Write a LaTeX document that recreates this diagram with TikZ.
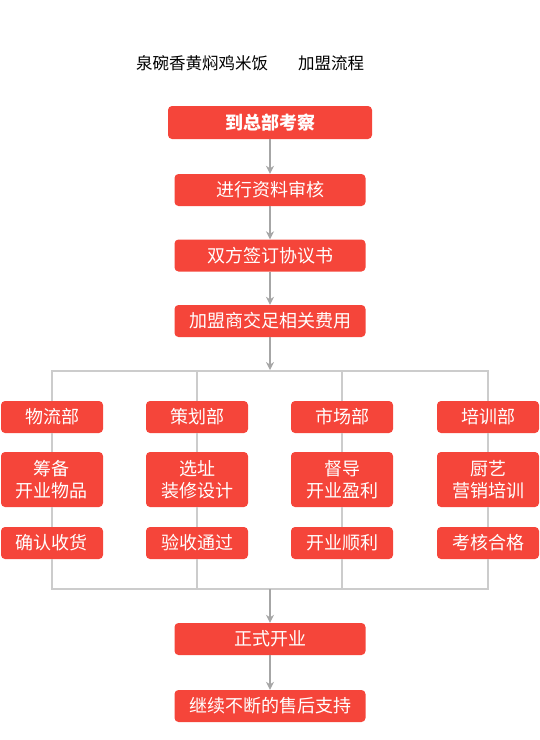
\documentclass[tikz,border=0pt]{standalone}
\usepackage{fontspec}
\setmainfont{Noto Sans CJK SC}
\usetikzlibrary{arrows.meta}
\definecolor{boxred}{HTML}{F5453A}
\definecolor{linegray}{HTML}{CCCCCC}
\definecolor{arrowgray}{HTML}{A6A6A6}
\tikzset{
  redbox/.style={fill=boxred, rounded corners=4pt, text=white, inner sep=0pt,
    minimum height=32pt, font=\fontsize{18}{22}\selectfont, align=center},
  mainbox/.style={redbox, minimum width=191pt},
  colbox/.style={redbox, minimum width=102pt},
  flowarrow/.style={-{Stealth[length=8pt,width=8pt]}, line width=1.6pt, arrowgray},
  branch/.style={line width=1.4pt, linegray}
}
\begin{document}
\begin{tikzpicture}[x=1pt,y=-1pt]
  \useasboundingbox (0,0) rectangle (540,740);

  % title
  \node (title) at (202,63) {\fontsize{16.5}{19}\selectfont 泉碗香黄焖鸡米饭};
  \node (sub) at (331,63) {\fontsize{16.5}{19}\selectfont 加盟流程};

  % main flow
  \node[redbox, minimum width=204pt, minimum height=33pt, font=\fontsize{18}{22}\selectfont\bfseries] (visit) at (270,122.5) {到总部考察};
  \node[mainbox] (check) at (270,190) {进行资料审核};
  \node[mainbox] (sign) at (270,255.5) {双方签订协议书};
  \node[mainbox] (fee) at (270,321) {加盟商交足相关费用};

  \draw[flowarrow] (visit) -- (check);
  \draw[flowarrow] (check) -- (sign);
  \draw[flowarrow] (sign) -- (fee);
  \coordinate (split) at (270,370);
  \draw[flowarrow] (fee) -- (split);

  % departments
  \node[colbox] (wl) at (52,417) {物流部};
  \node[colbox] (ch) at (197,417) {策划部};
  \node[colbox] (sc) at (342,417) {市场部};
  \node[colbox] (px) at (488,417) {培训部};

  \node[colbox, minimum height=55pt] (wl2) at (52,479.5) {筹备\\开业物品};
  \node[colbox, minimum height=55pt] (ch2) at (197,479.5) {选址\\装修设计};
  \node[colbox, minimum height=55pt] (sc2) at (342,479.5) {督导\\开业盈利};
  \node[colbox, minimum height=55pt] (px2) at (488,479.5) {厨艺\\营销培训};

  \node[colbox] (wl3) at (52,543) {确认收货};
  \node[colbox] (ch3) at (197,543) {验收通过};
  \node[colbox] (sc3) at (342,543) {开业顺利};
  \node[colbox] (px3) at (488,543) {考核合格};

  \coordinate (top1) at (52,371);
  \coordinate (top4) at (488,371);
  \coordinate (bot1) at (52,589);
  \coordinate (bot4) at (488,589);
  \coordinate (merge) at (270,589);

  \draw[branch] (wl.north) -- (top1) -- (top4) -- (px.north);
  \draw[branch] (ch.north) -- (ch.north |- top1);
  \draw[branch] (sc.north) -- (sc.north |- top1);
  \foreach \c in {wl,ch,sc,px}{
    \draw[branch] (\c) -- (\c2);
    \draw[branch] (\c2) -- (\c3);
  }
  \draw[branch] (wl3.south) -- (bot1) -- (bot4) -- (px3.south);
  \draw[branch] (ch3.south) -- (ch3.south |- bot1);
  \draw[branch] (sc3.south) -- (sc3.south |- bot1);

  % opening
  \node[mainbox] (open) at (270,639) {正式开业};
  \node[mainbox] (support) at (270,706) {继续不断的售后支持};

  \draw[flowarrow] (merge) -- (open);
  \draw[flowarrow] (open) -- (support);
\end{tikzpicture}
\end{document}
